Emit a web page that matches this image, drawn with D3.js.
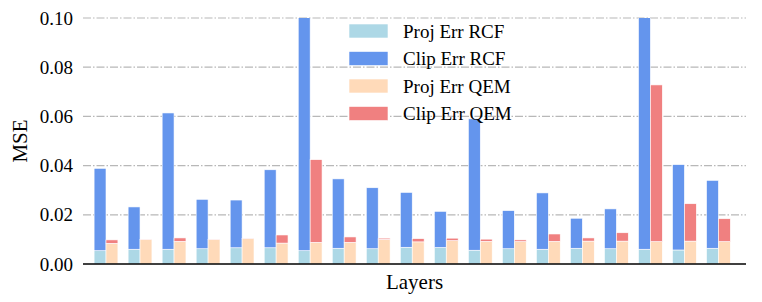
<!DOCTYPE html>
<html>
<head>
<meta charset="utf-8">
<script src="https://cdn.jsdelivr.net/npm/d3@7"></script>
<style>
  body { margin: 0; background: #fff; }
  svg { display: block; font-family: "Liberation Serif", "Times New Roman", serif; }
</style>
</head>
<body>
<div id="chart"></div>
<script>
// Per-layer MSE values (19 layers)
const layers = d3.range(19);
const projRCF = [0.0054, 0.0060, 0.0060, 0.0062, 0.0066, 0.0066, 0.0054, 0.0064, 0.0062, 0.0068,
                 0.0067, 0.0056, 0.0062, 0.0060, 0.0064, 0.0062, 0.0060, 0.0057, 0.0064];
const totalRCF = [0.0389, 0.0232, 0.0614, 0.0263, 0.0260, 0.0383, 0.1200, 0.0346, 0.0310, 0.0291,
                  0.0214, 0.0590, 0.0217, 0.0289, 0.0186, 0.0224, 0.1200, 0.0404, 0.0340];
const projQEM = [0.0084, 0.0099, 0.0092, 0.0099, 0.0103, 0.0085, 0.0088, 0.0088, 0.0100, 0.0090,
                 0.0095, 0.0092, 0.0091, 0.0092, 0.0093, 0.0093, 0.0091, 0.0093, 0.0091];
const totalQEM = [0.0098, 0.0100, 0.0106, 0.0100, 0.0104, 0.0118, 0.0424, 0.0110, 0.0105, 0.0103,
                  0.0105, 0.0101, 0.0098, 0.0122, 0.0106, 0.0127, 0.0728, 0.0245, 0.0184];
const clipRCF = totalRCF.map((t, i) => t - projRCF[i]);
const clipQEM = totalQEM.map((t, i) => t - projQEM[i]);
const yTicks = [0, 0.02, 0.04, 0.06, 0.08, 0.10];
const seriesNames = ['Proj Err RCF', 'Clip Err RCF', 'Proj Err QEM', 'Clip Err QEM'];
const seriesColors = ['#ADD8E6', '#6495ED', '#FFDAB9', '#F08080'];

const W = 762, H = 302;
const plotLeft = 83, plotRight = 746, plotTop = 18, plotBottom = 264;

const svg = d3.select('#chart').append('svg')
    .attr('width', W)
    .attr('height', H);

const x = d3.scaleLinear().domain([-0.676, 18.81]).range([plotLeft, plotRight]);
const y = d3.scaleLinear().domain([0, 0.10]).range([plotBottom, plotTop]);
const bw = (x(1) - x(0)) * 0.35;

svg.append('defs').append('clipPath').attr('id', 'plot-clip')
    .append('rect')
    .attr('x', plotLeft).attr('y', y(0.10))
    .attr('width', plotRight - plotLeft).attr('height', y(0) - y(0.10));

// grid lines (dash-dot)
svg.append('g')
    .selectAll('line')
    .data(yTicks.filter(d => d > 0))
    .join('line')
    .attr('x1', plotLeft).attr('x2', plotRight)
    .attr('y1', d => y(d)).attr('y2', d => y(d))
    .attr('stroke', '#b8b8b8')
    .attr('stroke-width', 1.2)
    .attr('stroke-dasharray', '8,2,1.5,2');

// bars
const bars = svg.append('g').attr('clip-path', 'url(#plot-clip)');
function stackBars(offset, lower, upper, color) {
    bars.append('g')
        .selectAll('rect')
        .data(layers)
        .join('rect')
        .attr('x', i => x(i) + offset)
        .attr('width', bw)
        .attr('y', i => y(lower[i] + upper[i]))
        .attr('height', i => y(lower[i]) - y(lower[i] + upper[i]))
        .attr('fill', color)
        .attr('stroke', '#fff')
        .attr('stroke-width', 0.6);
}
const zeros = layers.map(() => 0);
stackBars(-bw, zeros, projRCF, seriesColors[0]);
stackBars(-bw, projRCF, clipRCF, seriesColors[1]);
stackBars(0, zeros, projQEM, seriesColors[2]);
stackBars(0, projQEM, clipQEM, seriesColors[3]);

// y axis (labels only)
const yAxis = svg.append('g')
    .attr('transform', `translate(${plotLeft},0)`)
    .call(d3.axisLeft(y).tickValues(yTicks).tickFormat(d3.format('.2f')).tickSize(0).tickPadding(10));
yAxis.select('.domain').remove();
yAxis.selectAll('text')
    .attr('font-family', '"Liberation Serif", serif')
    .attr('font-size', 19)
    .attr('fill', '#000');

// x axis baseline
svg.append('line')
    .attr('x1', plotLeft).attr('x2', plotRight)
    .attr('y1', y(0)).attr('y2', y(0))
    .attr('stroke', '#000')
    .attr('stroke-width', 1.3);

svg.append('text')
    .attr('x', (plotLeft + plotRight) / 2)
    .attr('y', 289)
    .attr('text-anchor', 'middle')
    .attr('font-size', 21)
    .text('Layers');

svg.append('text')
    .attr('transform', `translate(27,${(plotTop + plotBottom) / 2}) rotate(-90)`)
    .attr('text-anchor', 'middle')
    .attr('font-size', 21)
    .text('MSE');

// legend
const legend = svg.append('g').attr('transform', 'translate(349,24)');
seriesNames.forEach((name, i) => {
    legend.append('rect')
        .attr('x', 0).attr('y', i * 27.5)
        .attr('width', 39).attr('height', 14)
        .attr('fill', seriesColors[i])
        .attr('stroke', '#fff').attr('stroke-width', 0.6);
    legend.append('text')
        .attr('x', 54).attr('y', i * 27.5 + 7)
        .attr('dy', '0.35em')
        .attr('font-size', 19)
        .text(name);
});
</script>
</body>
</html>
